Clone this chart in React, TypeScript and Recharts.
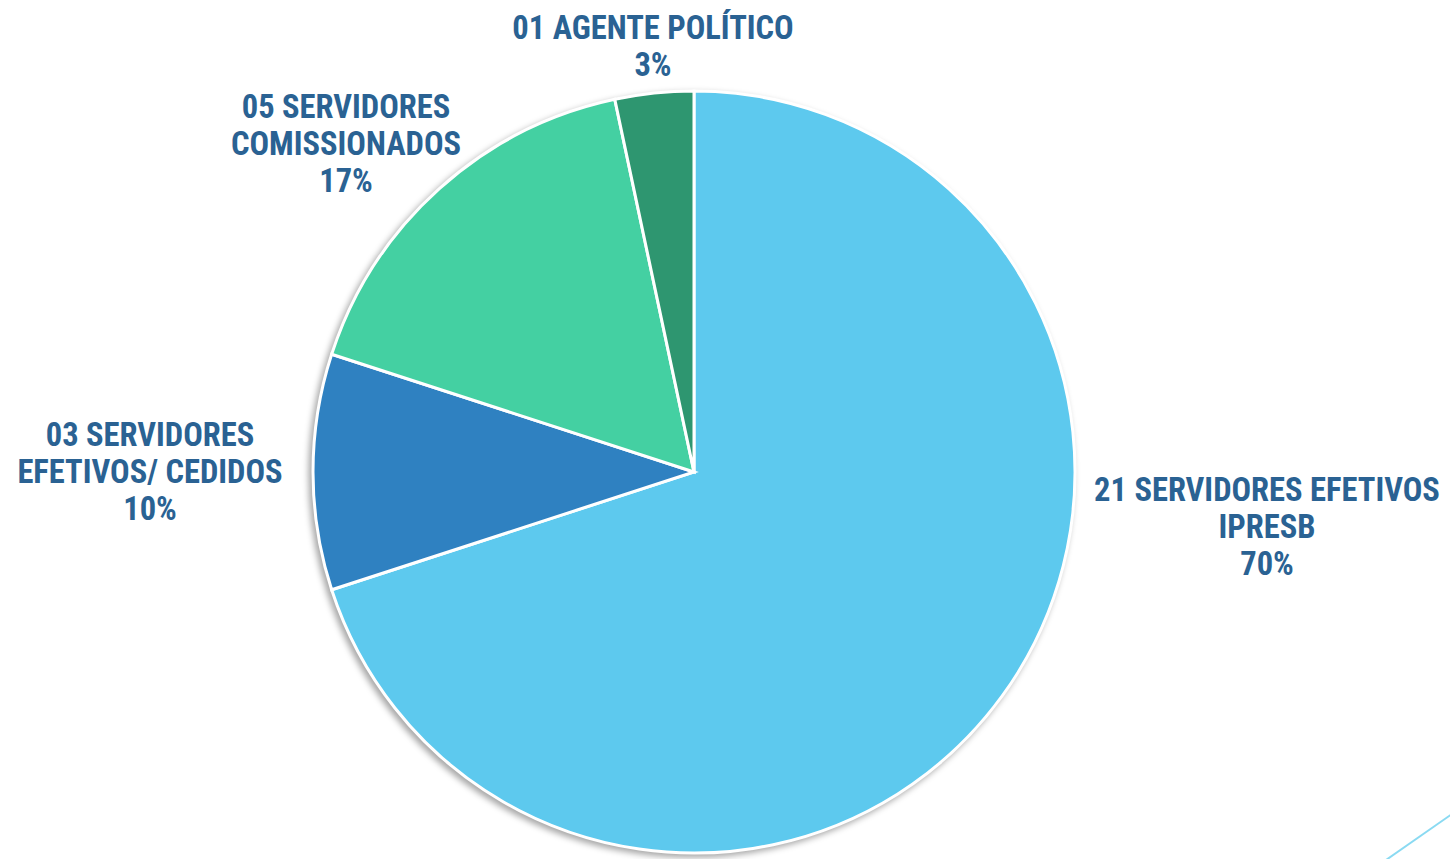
import React from 'react';
import { PieChart, Pie, Cell } from 'recharts';

const categories = ['21 SERVIDORES EFETIVOS|IPRESB', '03 SERVIDORES|EFETIVOS/ CEDIDOS', '05 SERVIDORES|COMISSIONADOS', '01 AGENTE POLÍTICO'];
const counts = [21, 3, 5, 1];
const percentLabels = ['70%', '10%', '17%', '3%'];
const sliceColors = ['#5DC9EE', '#2F81C1', '#44D0A2', '#2E9670'];

// label block centre, relative to the pie centre (Excel "best fit" placement)
const labelOffsets = [
  [573, 55],
  [-544, 0],
  [-348, -328],
  [-41, -426],
];

const chartData = categories.map((name, i) => ({ name, value: counts[i], pct: percentLabels[i] }));

const LINE_H = 37;

const renderLabel = (props: any) => {
  const { cx, cy, index, payload } = props;
  const lines: string[] = [...String(payload.name).split('|'), payload.pct];
  const [dx, dy] = labelOffsets[index];
  const x = cx + dx;
  const top = cy + dy - ((lines.length - 1) * LINE_H) / 2;
  return (
    <text
      x={x}
      y={top}
      textAnchor="middle"
      dominantBaseline="central"
      fill="#2A6293"
      fontFamily="'Liberation Sans Narrow', 'Arial Narrow', 'Roboto Condensed', sans-serif"
      fontWeight={700}
      fontSize={32.5}
    >
      {lines.map((l, i) => (
        <tspan key={i} x={x} y={top + i * LINE_H}>{l}</tspan>
      ))}
    </text>
  );
};

export default function App() {
  return (
    <div style={{ position: 'relative', width: 1450, height: 859, background: '#fff' }}>
      <style>{`body{margin:0} .recharts-pie{filter:drop-shadow(-3px 3px 3px rgba(0,0,0,0.35))}`}</style>
      <PieChart width={1450} height={859} margin={{ top: 0, right: 0, bottom: 0, left: 0 }}>
        <Pie
          data={chartData}
          dataKey="value"
          cx={694}
          cy={472}
          outerRadius={381}
          startAngle={90}
          endAngle={-270}
          stroke="#fff"
          strokeWidth={3}
          label={renderLabel}
          labelLine={false}
          isAnimationActive={false}
        >
          {chartData.map((d, i) => (
            <Cell key={d.name} fill={sliceColors[i]} />
          ))}
        </Pie>
      </PieChart>
      <svg width={1450} height={859} style={{ position: 'absolute', left: 0, top: 0, pointerEvents: 'none' }}>
        <line x1={1386} y1={860} x2={1452} y2={814} stroke="#8ADAF2" strokeWidth={2} />
      </svg>
    </div>
  );
}
